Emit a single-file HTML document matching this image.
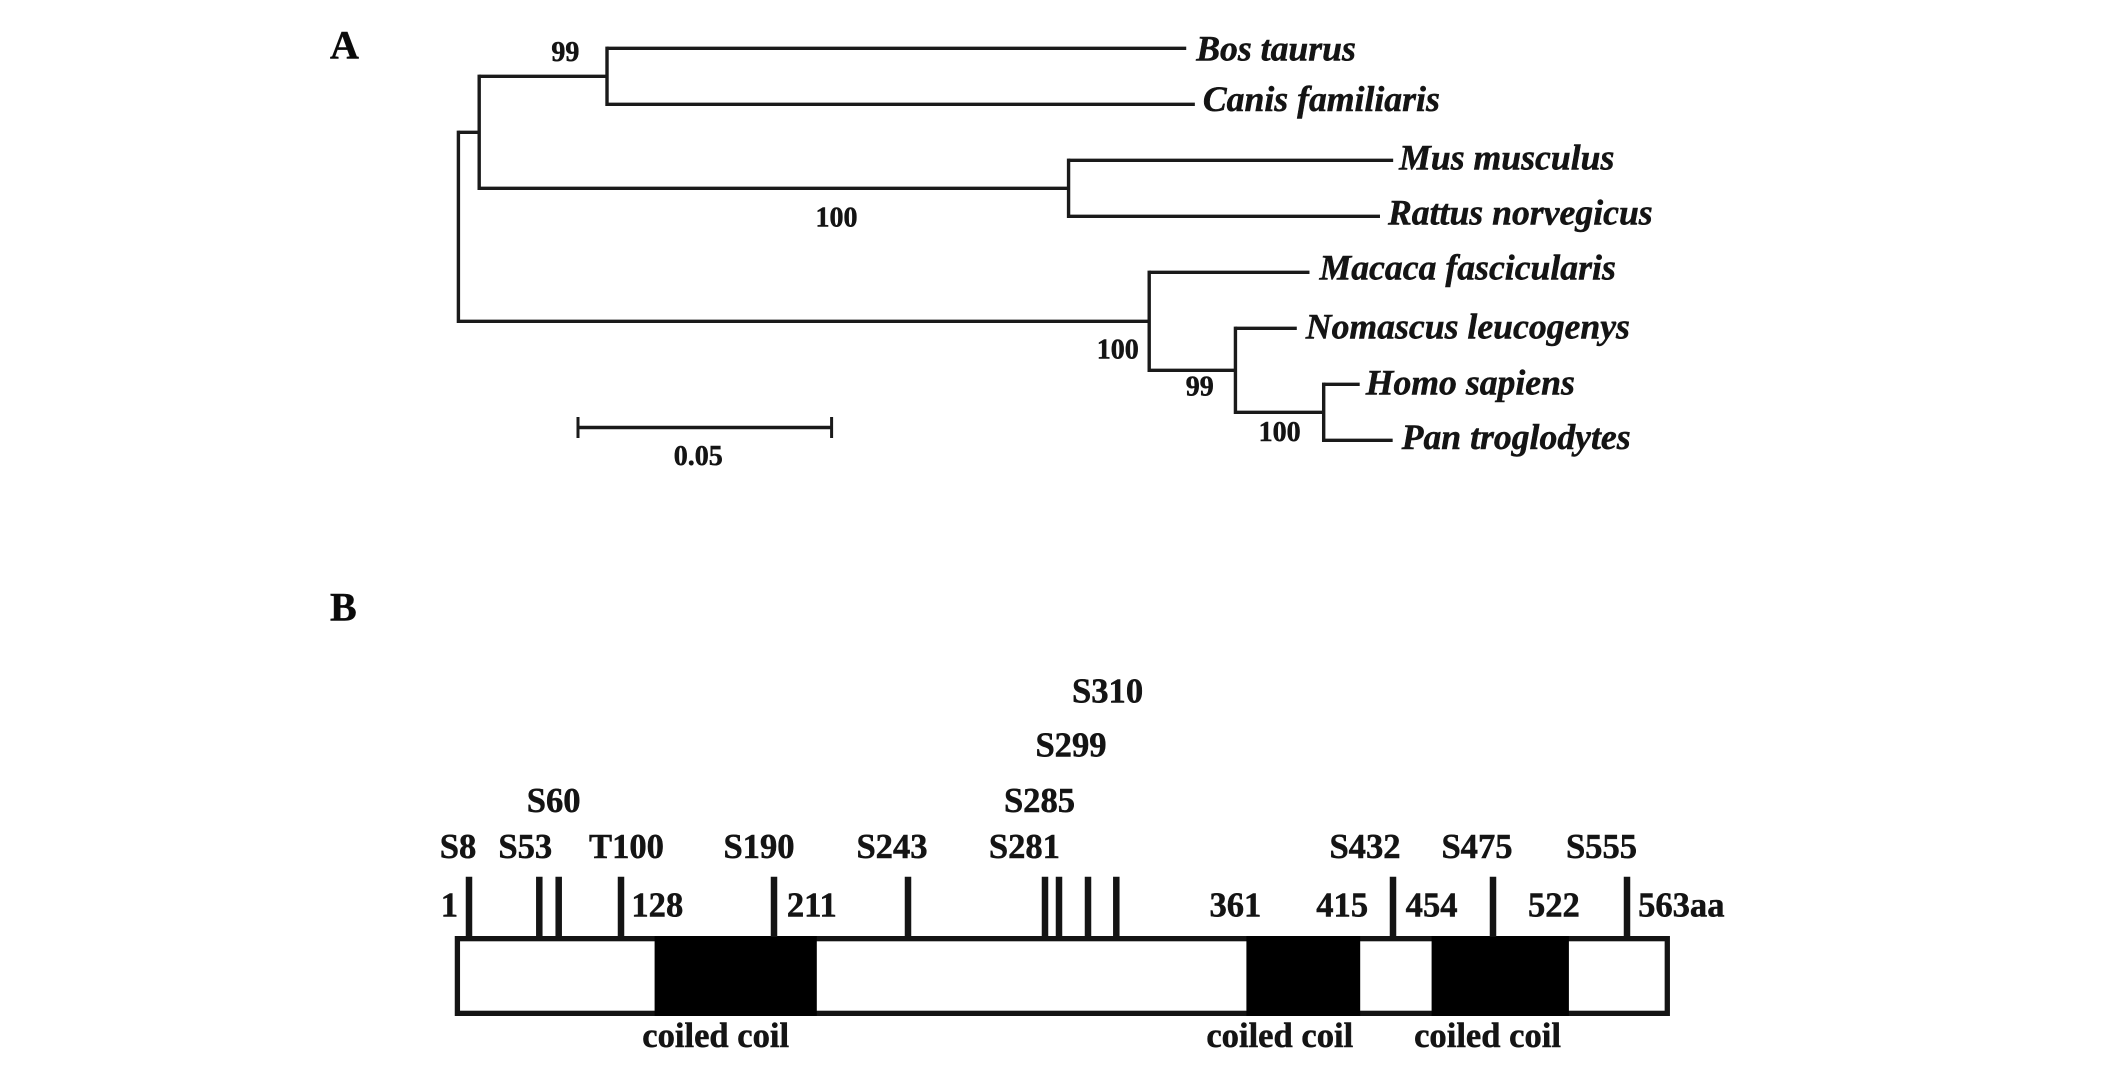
<!DOCTYPE html>
<html lang="en">
<head>
<meta charset="utf-8">
<title>Phylogenetic tree and protein domain schematic</title>
<style>
  html, body { margin: 0; padding: 0; background: #fff; }
  svg { display: block; }
  text { font-family: "Liberation Serif", "Times New Roman", serif; font-weight: bold; fill: #141414; stroke: #141414; stroke-width: 0.5px; }
  .species { font-style: italic; font-size: 35.7px; }
  .support { font-size: 28px; }
  .panel { font-size: 40px; fill: #0a0a0a; }
  .site, .bound, .domain-label { font-size: 34.6px; }
</style>
</head>
<body>
<svg id="fig" width="2126" height="1066" viewBox="0 0 2126 1066" xmlns="http://www.w3.org/2000/svg">
  <rect x="0" y="0" width="2126" height="1066" fill="#ffffff"/>
  <text class="panel" x="330" y="58.5">A</text>
  <text class="panel" x="330" y="620.5">B</text>
  <g id="tree"></g>
  <g id="protein"></g>
</svg>
<script>
// ---- Panel A data ----
const taxa = ['Bos taurus', 'Canis familiaris', 'Mus musculus', 'Rattus norvegicus', 'Macaca fascicularis', 'Nomascus leucogenys', 'Homo sapiens', 'Pan troglodytes'];
const tipParents = [2, 2, 3, 3, 4, 5, 6, 6];
const tipBranchLengths = [0.1142, 0.1159, 0.0640, 0.0614, 0.0316, 0.0121, 0.0071, 0.0136];
const cladeParents = [-1, 0, 1, 1, 0, 4, 5];
const cladeBranchLengths = [0, 0.0041, 0.0252, 0.1162, 0.1362, 0.0170, 0.0174];
const cladeSupport = [null, null, 99, 100, 100, 99, 100];
const scaleBarLength = 0.05;
const scaleBarLabel = '0.05';

// ---- Panel B data ----
const siteLabels = ['S8', 'S53', 'S60', 'T100', 'S190', 'S243', 'S281', 'S285', 'S299', 'S310', 'S432', 'S475', 'S555'];
const siteResidues = [8, 53, 60, 100, 190, 243, 281, 285, 299, 310, 432, 475, 555];
const domainStarts = [128, 361, 454];
const domainEnds = [211, 415, 522];
const domainName = 'coiled coil';
const boundaryResidues = [1, 128, 211, 361, 415, 454, 522, 563];
const boundaryLabels = ['1', '128', '211', '361', '415', '454', '522', '563aa'];

// ---- Layout (not data) ----
const treeLayout = {
  rootX: 458.4, pxPerUnit: 5072, firstRowY: 48.3, rowStep: 56,
  tipLabelDx: [10, 8, 6, 8, 10, 9, 6, 9],
  tipLabelDy: [12, 6.5, 9, 8, 7, 10, 10, 8.7],
  supportDx: [0, 0, -55.6, -253, -52.5, -49.7, -65],
  supportDy: [0, 0, -15.5, 38, 37, 25, 28.7],
  scaleX: 578, scaleY: 427.5, scaleLabelDx: -6.5
};
const axisKnotsResidue = [1, 8, 53, 60, 100, 128, 190, 211, 243, 281, 285, 299, 310, 361, 415, 432, 454, 475, 522, 555, 563];
const axisKnotsPx = [457.4, 469, 539.3, 558.7, 621, 654.6, 774, 816.8, 908, 1045, 1059, 1088, 1116.3, 1246.4, 1360.2, 1393, 1431.6, 1493, 1568.9, 1627, 1667.3];
const proteinLayout = {
  tickTop: 876.7, barTop: 936, barBottom: 1016,
  siteTierY: [858, 812, 756.7, 702.7],
  siteTier: [0, 0, 1, 0, 0, 0, 0, 1, 2, 3, 0, 0, 0],
  siteLabelDx: [-11, -14, -5, 5.5, -15, -16, -20.6, -19.5, -17, -8.7, -28, -16, -25.5],
  boundaryDx: [-8, 2.7, -5, -11, -18, 0, -15, 14],
  boundaryY: 916.7,
  domainLabelDx: [-20, -23.5, -12.7],
  domainLabelY: 1047.2
};

const SVG_NS = 'http://www.w3.org/2000/svg';
function make(parent, tag, attrs, text) {
  const el = document.createElementNS(SVG_NS, tag);
  for (const k in attrs) el.setAttribute(k, attrs[k]);
  if (text !== undefined) el.textContent = text;
  parent.appendChild(el);
  return el;
}
function line(parent, x1, y1, x2, y2, width, cap, color) {
  return make(parent, 'line', { x1: x1, y1: y1, x2: x2, y2: y2, stroke: color || '#1a1a1a', 'stroke-width': width, 'stroke-linecap': cap || 'butt' });
}

// ---- Draw panel A ----
const treeG = document.getElementById('tree');
const distToPx = d => d * treeLayout.pxPerUnit;
const cladeDepth = [];
cladeParents.forEach((p, i) => { cladeDepth[i] = (p < 0 ? 0 : cladeDepth[p]) + cladeBranchLengths[i]; });
const treeX = d => treeLayout.rootX + distToPx(d);
const rowY = r => treeLayout.firstRowY + r * treeLayout.rowStep;
const tipDepth = taxa.map((t, i) => cladeDepth[tipParents[i]] + tipBranchLengths[i]);
const tipY = taxa.map((t, i) => rowY(i));
const cladeY = [];
for (let i = cladeParents.length - 1; i >= 0; i--) {
  const ys = [];
  tipParents.forEach((p, t) => { if (p === i) ys.push(tipY[t]); });
  cladeParents.forEach((p, c) => { if (p === i) ys.push(cladeY[c]); });
  cladeY[i] = (Math.min.apply(null, ys) + Math.max.apply(null, ys)) / 2;
  const v = line(treeG, treeX(cladeDepth[i]), Math.min.apply(null, ys), treeX(cladeDepth[i]), Math.max.apply(null, ys), 3.4, 'square');
  
  
}
cladeParents.forEach((p, i) => {
  if (p < 0) return;
  const h = line(treeG, treeX(cladeDepth[p]), cladeY[i], treeX(cladeDepth[i]), cladeY[i], 3.4);
  
  
  if (cladeSupport[i] !== null) {
    const s = make(treeG, 'text', { class: 'support', x: treeX(cladeDepth[i]) + treeLayout.supportDx[i], y: cladeY[i] + treeLayout.supportDy[i] }, String(cladeSupport[i]));
    
    
  }
});
taxa.forEach((name, i) => {
  const h = line(treeG, treeX(cladeDepth[tipParents[i]]), tipY[i], treeX(tipDepth[i]), tipY[i], 3.4);
  
  
  const t = make(treeG, 'text', { class: 'species', x: treeX(tipDepth[i]) + treeLayout.tipLabelDx[i], y: tipY[i] + treeLayout.tipLabelDy[i] }, name);
  
  
});
const sbX2 = treeLayout.scaleX + distToPx(scaleBarLength);
const sb = line(treeG, treeLayout.scaleX, treeLayout.scaleY, sbX2, treeLayout.scaleY, 3.4);


const sbL = line(treeG, treeLayout.scaleX, treeLayout.scaleY - 10.5, treeLayout.scaleX, treeLayout.scaleY + 10.5, 3);


const sbR = line(treeG, sbX2, treeLayout.scaleY - 10.5, sbX2, treeLayout.scaleY + 10.5, 3);


const sbT = make(treeG, 'text', { class: 'support', x: (treeLayout.scaleX + sbX2) / 2 + treeLayout.scaleLabelDx, y: 465, 'text-anchor': 'middle' }, scaleBarLabel);



// ---- Draw panel B ----
const protG = document.getElementById('protein');
function residueX(r) {
  const k = axisKnotsResidue, p = axisKnotsPx;
  if (r <= k[0]) return p[0];
  for (let i = 1; i < k.length; i++) {
    if (r <= k[i]) return p[i - 1] + (r - k[i - 1]) / (k[i] - k[i - 1]) * (p[i] - p[i - 1]);
  }
  return p[p.length - 1];
}
const L = proteinLayout;
const frame = make(protG, 'rect', { x: residueX(1), y: L.barTop + 2.65, width: residueX(563) - residueX(1), height: L.barBottom - L.barTop - 5.3, fill: '#ffffff', stroke: '#141414', 'stroke-width': 5.3 });


domainStarts.forEach((start, i) => {
  const x1 = residueX(start), x2 = residueX(domainEnds[i]);
  const d = make(protG, 'rect', { x: x1, y: L.barTop, width: x2 - x1, height: L.barBottom - L.barTop, fill: '#000000' });
  
  
  const t = make(protG, 'text', { class: 'domain-label', x: (x1 + x2) / 2 + L.domainLabelDx[i], y: L.domainLabelY, 'text-anchor': 'middle' }, domainName);
  
  
});
siteResidues.forEach((r, i) => {
  const x = residueX(r);
  const tick = line(protG, x, L.tickTop, x, L.barTop + 1, 6.5, 'butt', '#141414');
  
  
  const t = make(protG, 'text', { class: 'site', x: x + L.siteLabelDx[i], y: L.siteTierY[L.siteTier[i]], 'text-anchor': 'middle' }, siteLabels[i]);
  
  
});
boundaryResidues.forEach((r, i) => {
  const t = make(protG, 'text', { class: 'bound', x: residueX(r) + L.boundaryDx[i], y: L.boundaryY, 'text-anchor': 'middle' }, boundaryLabels[i]);
  
  
});
</script>
</body>
</html>
